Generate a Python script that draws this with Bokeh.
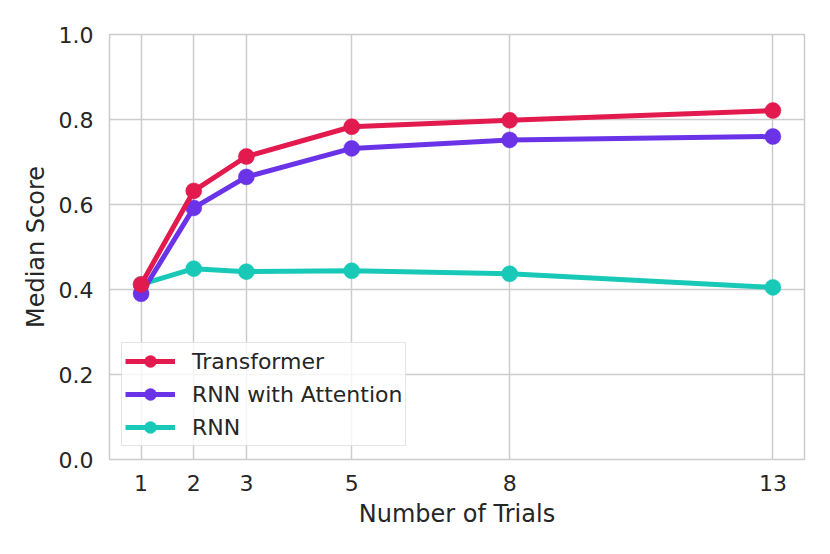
from bokeh.plotting import figure
from bokeh.models import Range1d, FixedTicker, PrintfTickFormatter, Legend, LegendItem
from bokeh.embed import file_html
from bokeh.resources import INLINE

trials = [1, 2, 3, 5, 8, 13]
transformer = [0.412, 0.632, 0.713, 0.783, 0.798, 0.821]
rnn_attention = [0.390, 0.592, 0.665, 0.732, 0.752, 0.760]
rnn = [0.412, 0.449, 0.442, 0.444, 0.437, 0.405]
y_ticks = [0.0, 0.2, 0.4, 0.6, 0.8, 1.0]

TEXT = "#262626"
GRID = "#cccccc"
FONT = "DejaVu Sans"

p = figure(width=814, height=538, output_backend="svg", toolbar_location=None,
           x_range=Range1d(0.4, 13.6), y_range=Range1d(0.0, 1.0),
           min_border_left=109, min_border_right=10, min_border_top=34, min_border_bottom=79)
p.background_fill_color = "white"
p.border_fill_color = "white"
p.outline_line_color = GRID
p.outline_line_width = 1.5

for ax in (p.xaxis[0], p.yaxis[0]):
    ax.axis_line_color = None
    ax.major_tick_line_color = None
    ax.minor_tick_line_color = None
    ax.major_tick_out = 0
    ax.major_tick_in = 0
    ax.major_label_text_font = FONT
    ax.major_label_text_font_size = "22px"
    ax.major_label_text_color = TEXT
    ax.axis_label_text_font = FONT
    ax.axis_label_text_font_size = "24px"
    ax.axis_label_text_color = TEXT
    ax.axis_label_text_font_style = "normal"

p.xaxis.ticker = FixedTicker(ticks=trials)
p.yaxis.ticker = FixedTicker(ticks=y_ticks)
p.yaxis.formatter = PrintfTickFormatter(format="%.1f")
p.xaxis.axis_label = "Number of Trials"
p.yaxis.axis_label = "Median Score"
p.xaxis.major_label_standoff = 15
p.yaxis.major_label_standoff = 16
p.xaxis.axis_label_standoff = 6
p.yaxis.axis_label_standoff = 6

for g in (p.xgrid[0], p.ygrid[0]):
    g.grid_line_color = GRID
    g.grid_line_width = 1.5

series = [
    ("RNN", rnn, "#18C9B8"),
    ("RNN with Attention", rnn_attention, "#6A33E8"),
    ("Transformer", transformer, "#E31A4E"),
]
items = {}
for name, ys, col in series:
    l = p.line(trials, ys, line_color=col, line_width=5)
    s = p.scatter(trials, ys, marker="circle", size=16, fill_color=col, line_color=col, line_width=0.5)
    items[name] = [l, s]

legend = Legend(items=[LegendItem(label=n, renderers=items[n])
                       for n in ["Transformer", "RNN with Attention", "RNN"]],
                location=(12, 13))
legend.label_text_font = FONT
legend.label_text_font_size = "22px"
legend.label_text_color = TEXT
legend.glyph_width = 50
legend.glyph_height = 30
legend.label_height = 30
legend.label_standoff = 17
legend.spacing = 3
legend.padding = 3
legend.margin = 0
legend.border_line_color = GRID
legend.border_line_width = 1.2
legend.background_fill_color = "white"
legend.background_fill_alpha = 0.8
p.add_layout(legend, "center")

open("out.html", "w").write(file_html(p, INLINE))
